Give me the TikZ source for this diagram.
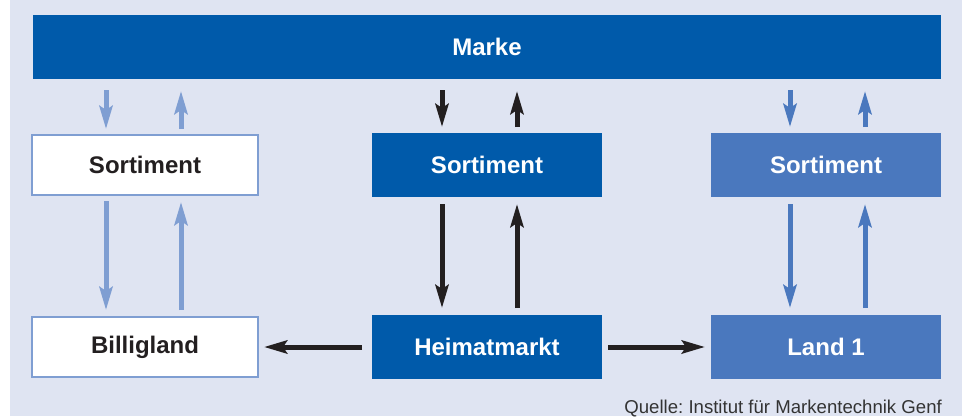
\documentclass[tikz,border=0pt]{standalone}
\usepackage{fontspec}
\setmainfont{Liberation Sans}
\usetikzlibrary{arrows.meta,positioning}
\frenchspacing
\definecolor{panelbg}{HTML}{DFE4F2}
\definecolor{markeblue}{HTML}{005AAA}
\definecolor{landblue}{HTML}{4A78BE}
\definecolor{paleblue}{HTML}{7F9ED2}
\definecolor{arrowblack}{HTML}{231F20}
\definecolor{quellegray}{HTML}{333333}

\begin{document}
\begin{tikzpicture}[
  box/.style={fill=#1, text=white, minimum width=230pt, minimum height=64pt,
              inner sep=0pt, outer sep=0pt,
              font=\fontsize{24}{28}\selectfont\bfseries},
  pbox/.style={fill=white, draw=paleblue, line width=2pt, text=arrowblack,
               minimum width=226pt, minimum height=60pt,
               inner sep=0pt, outer sep=0pt,
               font=\fontsize{24}{28}\selectfont\bfseries},
  arr/.style={-{Stealth[length=23pt,width=13pt,inset=4pt]}, line width=5pt, draw=#1},
  arr/.default=arrowblack,
]
%% panel and bounding box
\useasboundingbox (0,0) rectangle (962pt,-416pt);
\fill[panelbg] (10pt,0) rectangle (962pt,-416pt);
%% Row 1: brand
\node[box=markeblue, minimum width=908pt] (marke) at (487pt,-47pt) {Marke};
%% Row 2: assortments
\node[box=markeblue, below=54pt of marke] (sortM) {Sortiment};
\node[pbox, left=114pt of sortM] (sortL) {Sortiment};
\node[box=landblue, right=109pt of sortM] (sortR) {Sortiment};
%% Row 3: markets
\node[box=markeblue, below=118pt of sortM] (heim) {Heimatmarkt};
\node[pbox, left=114pt of heim] (bill) {Billigland};
\node[box=landblue, right=109pt of heim] (land) {Land 1};
%% arrow columns
\coordinate (lDn) at ([xshift=-39pt]sortL.north);
\coordinate (lUp) at ([xshift=36pt]sortL.north);
\coordinate (mDn) at ([xshift=-45pt]sortM.north);
\coordinate (mUp) at ([xshift=30pt]sortM.north);
\coordinate (rDn) at ([xshift=-36pt]sortR.north);
\coordinate (rUp) at ([xshift=39pt]sortR.north);
%% Marke <-> Sortiment
\draw[arr=paleblue, shorten <=11pt, shorten >=6pt] (lDn |- marke.south) -- (lDn);
\draw[arr=paleblue, shorten <=6pt, shorten >=12pt] (lUp) -- (lUp |- marke.south);
\draw[arr, shorten <=11pt, shorten >=6pt] (mDn |- marke.south) -- (mDn);
\draw[arr, shorten <=6pt, shorten >=12pt] (mUp) -- (mUp |- marke.south);
\draw[arr=landblue, shorten <=11pt, shorten >=6pt] (rDn |- marke.south) -- (rDn);
\draw[arr=landblue, shorten <=6pt, shorten >=12pt] (rUp) -- (rUp |- marke.south);
%% Sortiment <-> Markt
\draw[arr=paleblue, shorten <=6pt, shorten >=7pt] (lDn |- sortL.south) -- (lDn |- bill.north);
\draw[arr=paleblue, shorten <=7pt, shorten >=7pt] (lUp |- bill.north) -- (lUp |- sortL.south);
\draw[arr, shorten <=7pt, shorten >=7pt] (mDn |- sortM.south) -- (mDn |- heim.north);
\draw[arr, shorten <=7pt, shorten >=7pt] (mUp |- heim.north) -- (mUp |- sortM.south);
\draw[arr=landblue, shorten <=7pt, shorten >=7pt] (rDn |- sortR.south) -- (rDn |- land.north);
\draw[arr=landblue, shorten <=7pt, shorten >=7pt] (rUp |- land.north) -- (rUp |- sortR.south);
%% Heimatmarkt -> other markets
\draw[arr, shorten <=10pt, shorten >=6pt] (heim.west) -- (bill.east);
\draw[arr, shorten <=6pt, shorten >=6pt] (heim.east) -- (land.west);
%% source
\node[anchor=base east, inner sep=0pt, text=quellegray,
      font=\fontsize{18.6}{20}\selectfont] (quelle) at (942pt,-413pt)
  {Quelle: Institut für Markentechnik Genf};
\end{tikzpicture}
\end{document}
